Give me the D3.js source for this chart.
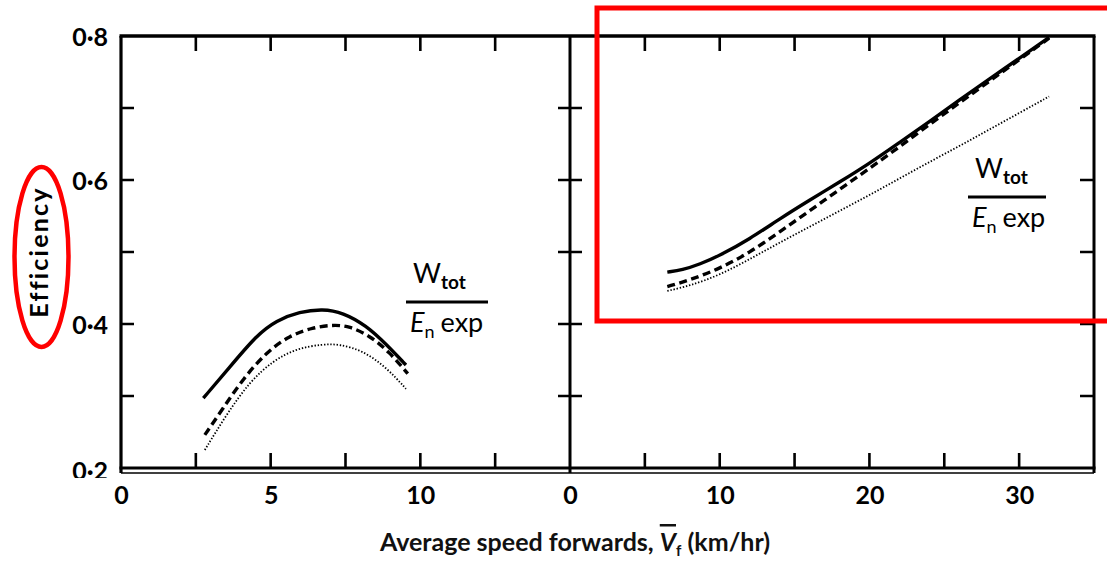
<!DOCTYPE html>
<html>
<head>
<meta charset="utf-8">
<script src="https://cdn.jsdelivr.net/npm/d3@7"></script>
<style>
    body { margin: 0; background: #fff; }
    svg { display: block; font-family: Lato, "Open Sans", sans-serif; }
</style>
</head>
<body>
<div id="chart"></div>
<script>
// curves: [speed km/hr, efficiency]
var leftSolid  = [[2.75,0.297],[3.63,0.340],[4.52,0.384],[5.19,0.405],[5.97,0.417],[6.74,0.421],[7.41,0.416],[8.19,0.398],[8.86,0.372],[9.52,0.343]];
var leftDashed = [[2.8,0.246],[3.41,0.283],[4.08,0.324],[4.86,0.361],[5.63,0.384],[6.41,0.395],[7.08,0.399],[7.63,0.397],[8.3,0.384],[8.97,0.361],[9.58,0.331]];
var leftDotted = [[2.8,0.225],[3.52,0.274],[4.3,0.320],[5.08,0.349],[5.86,0.366],[6.74,0.372],[7.3,0.372],[8.08,0.363],[8.86,0.340],[9.52,0.310]];

var rightSolid  = [[6.5,0.472],[7.5,0.475],[8.67,0.483],[10,0.495],[12,0.518],[14,0.546],[16,0.572],[18,0.597],[20,0.623],[22,0.652],[24,0.681],[26,0.711],[28,0.740],[30,0.769],[32,0.798]];
var rightDashed = [[6.5,0.452],[8,0.461],[10,0.477],[12,0.499],[14,0.528],[16,0.557],[18,0.587],[20,0.616],[22,0.646],[24,0.677],[26,0.707],[28,0.737],[30,0.767],[32,0.797]];
var rightDotted = [[6.5,0.446],[8,0.453],[10,0.468],[12,0.490],[14,0.513],[16,0.535],[18,0.557],[20,0.579],[22,0.602],[24,0.625],[26,0.647],[28,0.670],[30,0.693],[32,0.716]];

var leftTicks = [2.5, 5, 7.5, 10, 12.5];
var leftLabels = [0, 5, 10];
var rightTicks = [5, 10, 15, 20, 25, 30];
var rightLabels = [0, 10, 20, 30];
var yTicks = [0.3, 0.4, 0.5, 0.6, 0.7];
var yLabels = [0.2, 0.4, 0.6, 0.8];

var W = 1107, H = 563;

var svg = d3.select("#chart").append("svg")
    .attr("width", W)
    .attr("height", H);

var xL = d3.scaleLinear().domain([0, 15]).range([121, 570]);
var xR = d3.scaleLinear().domain([0, 35]).range([570, 1094]);
var y = d3.scaleLinear().domain([0.2, 0.8]).range([468, 36]);

var fmt = function(d){ return d3.format(".1f")(d).replace(".", "\u00b7"); };

// frame
var frame = svg.append("g").attr("stroke", "#000").attr("fill", "none");
frame.append("line").attr("x1", xL(0) - 1.5).attr("x2", xR(35) + 1.5).attr("y1", y(0.8)).attr("y2", y(0.8)).attr("stroke-width", 3.5);
frame.append("line").attr("x1", xL(0) - 1.5).attr("x2", xR(35) + 1.5).attr("y1", y(0.2)).attr("y2", y(0.2)).attr("stroke-width", 3);
frame.append("line").attr("x1", xL(0)).attr("x2", xR(35)).attr("y1", y(0.2) + 5).attr("y2", y(0.2) + 5).attr("stroke-width", 1.6);
frame.append("line").attr("x1", xL(0)).attr("x2", xL(0)).attr("y1", y(0.8)).attr("y2", y(0.2) + 5).attr("stroke-width", 3.2);
frame.append("line").attr("x1", xR(0)).attr("x2", xR(0)).attr("y1", y(0.8)).attr("y2", y(0.2) + 5).attr("stroke-width", 3);
frame.append("line").attr("x1", xR(35)).attr("x2", xR(35)).attr("y1", y(0.8)).attr("y2", y(0.2) + 5).attr("stroke-width", 3);

// tick marks: one path for every little stroke
var TL = 15;
var tp = d3.path();
function addXTicks(vals, sc){
    vals.forEach(function(d){
        var x = sc(d);
        tp.moveTo(x, y(0.8)); tp.lineTo(x, y(0.8) + TL);
        tp.moveTo(x, y(0.2)); tp.lineTo(x, y(0.2) - TL);
    });
}
function addYTicks(x0, left, right){
    yTicks.forEach(function(d){
        tp.moveTo(x0 - left, y(d)); tp.lineTo(x0 + right, y(d));
    });
}
addXTicks(leftTicks, xL);
addXTicks(rightTicks, xR);
addYTicks(xL(0), 0, 13);
addYTicks(xR(0), 12, 12);
addYTicks(xR(35), 14, 0);
svg.append("path")
    .attr("d", tp.toString())
    .attr("fill", "none")
    .attr("stroke", "#000")
    .attr("stroke-width", 2.6);

// tick labels
function labelsOnly(axis, g){
    g.call(axis.tickSize(0));
    g.select(".domain").remove();
    g.selectAll(".tick text")
        .attr("fill", "#000")
        .attr("font-family", "Lato, sans-serif")
        .attr("font-weight", "bold")
        .attr("font-size", 25);
    return g;
}
labelsOnly(d3.axisBottom(xL).tickValues(leftLabels).tickFormat(d3.format("d")).tickPadding(18), svg.append("g").attr("transform", "translate(0," + y(0.2) + ")"));
labelsOnly(d3.axisBottom(xR).tickValues(rightLabels).tickFormat(d3.format("d")).tickPadding(18), svg.append("g").attr("transform", "translate(0," + y(0.2) + ")"));

// the 0.2 label is cut off by the bottom border in the original
svg.append("clipPath").attr("id", "ylabClip")
    .append("rect").attr("x", 0).attr("y", 0).attr("width", 118).attr("height", 478);
var yLab = labelsOnly(d3.axisLeft(y).tickValues(yLabels).tickFormat(fmt).tickPadding(13),
    svg.append("g").attr("clip-path", "url(#ylabClip)").append("g").attr("transform", "translate(" + xL(0) + ",0)"));
yLab.selectAll(".tick text").attr("dy", function(d){ return d < 0.3 ? "0.46em" : "0.38em"; });

// curves
var lineL = d3.line().x(function(d){ return xL(d[0]); }).y(function(d){ return y(d[1]); }).curve(d3.curveBasis);
var lineR = d3.line().x(function(d){ return xR(d[0]); }).y(function(d){ return y(d[1]); }).curve(d3.curveBasis);

var styles = {
    solid:  { w: 3.4, dash: null },
    dashed: { w: 3.4, dash: "8 4.5" },
    dotted: { w: 1.8, dash: "1.4 1.8" }
};

function drawCurve(data, gen, s){
    var p = svg.append("path")
        .attr("d", gen(data))
        .attr("fill", "none")
        .attr("stroke", "#000")
        .attr("stroke-width", s.w);
    if (s.dash) p.attr("stroke-dasharray", s.dash);
}
drawCurve(leftSolid, lineL, styles.solid);
drawCurve(leftDashed, lineL, styles.dashed);
drawCurve(leftDotted, lineL, styles.dotted);
drawCurve(rightSolid, lineR, styles.solid);
drawCurve(rightDashed, lineR, styles.dashed);
drawCurve(rightDotted, lineR, styles.dotted);

// W_tot / E_n exp fraction
function fraction(x1, x2, yLine){
    var g = svg.append("g").attr("font-family", "Lato, sans-serif").attr("fill", "#000");
    var top = g.append("text").attr("x", x1 + 7).attr("y", yLine - 19).attr("font-size", 27);
    top.append("tspan").text("W");
    top.append("tspan").attr("font-size", 19).attr("font-weight", "bold").attr("dy", 6).text("tot");
    g.append("line")
        .attr("x1", x1).attr("x2", x2)
        .attr("y1", yLine).attr("y2", yLine)
        .attr("stroke", "#000").attr("stroke-width", 3);
    var bot = g.append("text").attr("x", x1 + 4).attr("y", yLine + 30).attr("font-size", 27);
    bot.append("tspan").attr("font-style", "italic").text("E");
    bot.append("tspan").attr("font-size", 18).attr("dy", 6).text("n");
    bot.append("tspan").attr("dy", -6).attr("dx", 6).text("exp");
}
fraction(406, 488, 302);
fraction(968, 1046, 197);

// axis titles
var xt = svg.append("text")
    .attr("x", 575).attr("y", 551)
    .attr("text-anchor", "middle")
    .attr("font-size", 25)
    .attr("font-weight", "bold")
    .attr("fill", "#111");
xt.append("tspan").text("Average speed forwards, ");
xt.append("tspan").attr("font-style", "italic").style("text-decoration", "overline").text("V");
xt.append("tspan").attr("font-size", 15).attr("dy", 5).text("f");
xt.append("tspan").attr("dy", -5).text(" (km/hr)");

svg.append("text")
    .attr("transform", "translate(48,252) rotate(-90)")
    .attr("text-anchor", "middle")
    .attr("font-size", 25)
    .attr("font-weight", "bold")
    .attr("letter-spacing", 2.2)
    .attr("fill", "#000")
    .text("Efficiency");

// red highlight marks
svg.append("ellipse")
    .attr("cx", 41.5).attr("cy", 257)
    .attr("rx", 27).attr("ry", 90)
    .attr("fill", "none")
    .attr("stroke", "#f00")
    .attr("stroke-width", 4.5);

svg.append("rect")
    .attr("x", 597).attr("y", 8)
    .attr("width", 530).attr("height", 313)
    .attr("fill", "none")
    .attr("stroke", "#f00")
    .attr("stroke-width", 5);
</script>
</body>
</html>
